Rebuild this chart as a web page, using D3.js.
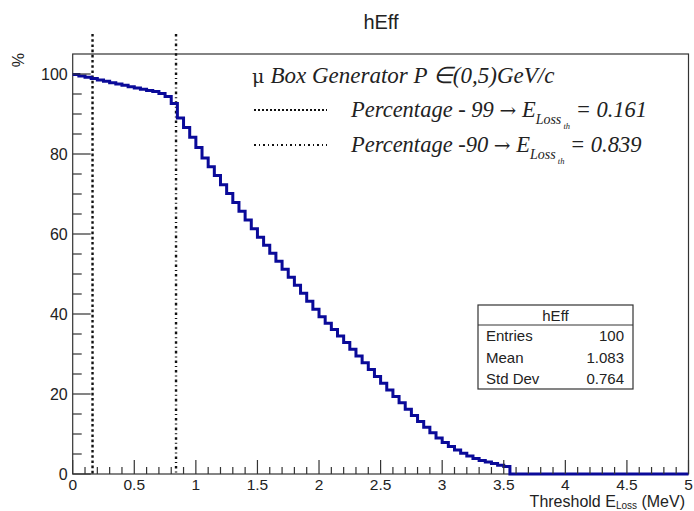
<!DOCTYPE html>
<html>
<head>
<meta charset="utf-8">
<script src="https://cdn.jsdelivr.net/npm/d3@7"></script>
<style>
  html, body { margin: 0; padding: 0; background: #fff; }
  svg { display: block; }
  .sans { font-family: "Liberation Sans", Arial, Helvetica, sans-serif; fill: #222; }
  .serif { font-family: "Liberation Serif", "Times New Roman", serif; fill: #222; }
</style>
</head>
<body>
<svg id="chart" width="694" height="511"></svg>
<script>
// Histogram binning: 100 bins on [0, 5] MeV
const binLow = 0;
const binHigh = 5;
const nBins = 100;

// Efficiency (%) in each bin of threshold energy loss
const efficiency = [
  99.9, 99.5, 99.2, 98.9, 98.5, 98.2, 97.8, 97.5, 97.2, 96.8,
  96.5, 96.2, 95.9, 95.6, 95.1, 94.4, 92.6, 89.0, 86.6, 84.2,
  81.6, 79.0, 76.8, 74.6, 72.3, 70.1, 67.9, 65.7, 63.5, 61.3,
  59.2, 57.2, 55.2, 53.2, 51.2, 49.2, 47.2, 45.2, 43.2, 41.2,
  39.3, 37.7, 36.1, 34.5, 32.9, 31.2, 29.5, 27.8, 26.1, 24.4,
  22.7, 21.0, 19.4, 17.8, 16.2, 14.6, 13.1, 11.7, 10.3, 9.0,
  7.9, 6.9, 6.0, 5.2, 4.5, 3.9, 3.4, 3.0, 2.6, 2.2,
  1.9, 0, 0, 0, 0, 0, 0, 0, 0, 0,
  0, 0, 0, 0, 0, 0, 0, 0, 0, 0,
  0, 0, 0, 0, 0, 0, 0, 0, 0, 0
];

// Threshold markers
const thresholdValues = [0.161, 0.839];
const thresholdLabels = ["Percentage - 99 ", "Percentage -90 "];
const thresholdNumbers = ["0.161", "0.839"];
const markerTop = 110;

// Axis ticks
const xTickLabels = ["0", "0.5", "1", "1.5", "2", "2.5", "3", "3.5", "4", "4.5", "5"];
const yTickLabels = ["0", "20", "40", "60", "80", "100"];

// Statistics box
const statNames = ["Entries", "Mean", "Std Dev"];
const statValues = ["100", "1.083", "0.764"];

const svg = d3.select("#chart");
const frame = { left: 72.7, right: 688.5, top: 54, bottom: 474 };

const x = d3.scaleLinear().domain([binLow, binHigh]).range([frame.left, frame.right]);
const y = d3.scaleLinear().domain([0, 105]).range([frame.bottom, frame.top]);

const lineColor = "#0a0a99";

// Title
svg.append("text").attr("class", "sans")
  .attr("x", 381).attr("y", 29)
  .attr("text-anchor", "middle")
  .attr("font-size", 20)
  .text("hEff");

// Frame
svg.append("rect")
  .attr("x", frame.left).attr("y", frame.top)
  .attr("width", frame.right - frame.left).attr("height", frame.bottom - frame.top)
  .attr("fill", "none").attr("stroke", "#333").attr("stroke-width", 1.2);

// Threshold lines (dotted, dash-dotted)
const markerDash = ["2.6,2.6", "2.6,3,1,3"];
svg.append("g").selectAll("line")
  .data(thresholdValues)
  .join("line")
  .attr("x1", d => x(d)).attr("x2", d => x(d))
  .attr("y1", y(markerTop)).attr("y2", y(0))
  .attr("stroke", "#111")
  .attr("stroke-width", 2.4)
  .attr("stroke-dasharray", (d, i) => markerDash[i]);

// Histogram outline
const binWidth = (binHigh - binLow) / nBins;
const steps = efficiency.map((v, i) => [binLow + i * binWidth, v]);
steps.push([binHigh, efficiency[nBins - 1]]);
svg.append("path")
  .datum(steps)
  .attr("fill", "none")
  .attr("stroke", lineColor)
  .attr("stroke-width", 3)
  .attr("stroke-linejoin", "miter")
  .attr("d", d3.line().x(d => x(d[0])).y(d => y(d[1])).curve(d3.curveStepAfter));

// X axis: ticks drawn inward
const xAxis = svg.append("g").attr("transform", `translate(0,${frame.bottom})`);
const xMinor = d3.range(0, 51).map(i => i * 0.1);
xAxis.selectAll("line.minor")
  .data(xMinor)
  .join("line")
  .attr("x1", d => x(d)).attr("x2", d => x(d))
  .attr("y1", 0).attr("y2", (d, i) => (i % 5 === 0 ? -14 : -7))
  .attr("stroke", "#333").attr("stroke-width", 1.2);
xAxis.selectAll("text")
  .data(xTickLabels)
  .join("text")
  .attr("class", "sans")
  .attr("x", d => x(+d)).attr("y", 16)
  .attr("text-anchor", "middle")
  .attr("font-size", 15.5)
  .text(d => d);

// Y axis: ticks drawn inward
const yAxis = svg.append("g").attr("transform", `translate(${frame.left},0)`);
const yMinor = d3.range(0, 21).map(i => i * 5);
yAxis.selectAll("line")
  .data(yMinor)
  .join("line")
  .attr("x1", 0).attr("x2", (d, i) => (i % 4 === 0 ? 18 : 9))
  .attr("y1", d => y(d)).attr("y2", d => y(d))
  .attr("stroke", "#333").attr("stroke-width", 1.2);
yAxis.selectAll("text")
  .data(yTickLabels)
  .join("text")
  .attr("class", "sans")
  .attr("x", -5).attr("y", d => y(+d) + 6)
  .attr("text-anchor", "end")
  .attr("font-size", 16)
  .text(d => d);

// Axis titles
svg.append("text").attr("class", "sans")
  .attr("transform", "translate(24,53) rotate(-90)")
  .attr("text-anchor", "end")
  .attr("font-size", 16)
  .text("%");

const xTitle = svg.append("text").attr("class", "sans")
  .attr("x", 685).attr("y", 506.5)
  .attr("text-anchor", "end")
  .attr("font-size", 16);
xTitle.append("tspan").text("Threshold E");
xTitle.append("tspan").attr("font-size", 10).attr("dy", 2).text("Loss");
xTitle.append("tspan").attr("dy", -2).text(" (MeV)");

// Legend
const legend = svg.append("g");
const head = legend.append("text").attr("class", "serif")
  .attr("x", 252).attr("y", 83).attr("font-size", 23);
head.append("tspan").attr("font-family", "'DejaVu Serif', serif").attr("font-size", 19).text("\u03BC ");
head.append("tspan").attr("font-style", "italic").text("Box Generator P  \u2208(0,5)GeV/c");

thresholdValues.forEach((v, i) => {
  const base = 117 + i * 35;
  legend.append("line")
    .attr("x1", 254).attr("x2", 327)
    .attr("y1", base - 7).attr("y2", base - 7)
    .attr("stroke", "#111").attr("stroke-width", 1.8)
    .attr("stroke-dasharray", i === 0 ? "2,2" : "2,3,1,3");
  const t = legend.append("text").attr("class", "serif")
    .attr("x", 351).attr("y", base)
    .attr("font-size", 22.5).attr("font-style", "italic");
  t.append("tspan").text(thresholdLabels[i]);
  t.append("tspan").attr("font-family", "'DejaVu Serif', serif").attr("font-style", "normal")
    .attr("font-size", 20).text("\u2192");
  t.append("tspan").text("  E");
  t.append("tspan").attr("font-size", 14).attr("dy", 7).text("Loss");
  t.append("tspan").attr("font-size", 8.5).attr("dy", 5).attr("fill", "#222").text(" th");
  t.append("tspan").attr("dy", -12).text(" = " + thresholdNumbers[i]);
});

// Statistics box
const stats = svg.append("g");
const box = { x: 478, y: 305, w: 155, h: 84, head: 20 };
stats.append("rect")
  .attr("x", box.x).attr("y", box.y).attr("width", box.w).attr("height", box.h)
  .attr("fill", "#fff").attr("stroke", "#333").attr("stroke-width", 1.2);
stats.append("line")
  .attr("x1", box.x).attr("x2", box.x + box.w)
  .attr("y1", box.y + box.head).attr("y2", box.y + box.head)
  .attr("stroke", "#333").attr("stroke-width", 1);
stats.append("text").attr("class", "sans")
  .attr("x", box.x + box.w / 2).attr("y", box.y + 16)
  .attr("text-anchor", "middle").attr("font-size", 15)
  .text("hEff");
statNames.forEach((name, i) => {
  const by = box.y + 36 + i * 21.5;
  stats.append("text").attr("class", "sans")
    .attr("x", box.x + 8).attr("y", by).attr("font-size", 15).text(name);
  stats.append("text").attr("class", "sans")
    .attr("x", box.x + box.w - 9).attr("y", by)
    .attr("text-anchor", "end").attr("font-size", 15).text(statValues[i]);
});
</script>
</body>
</html>
